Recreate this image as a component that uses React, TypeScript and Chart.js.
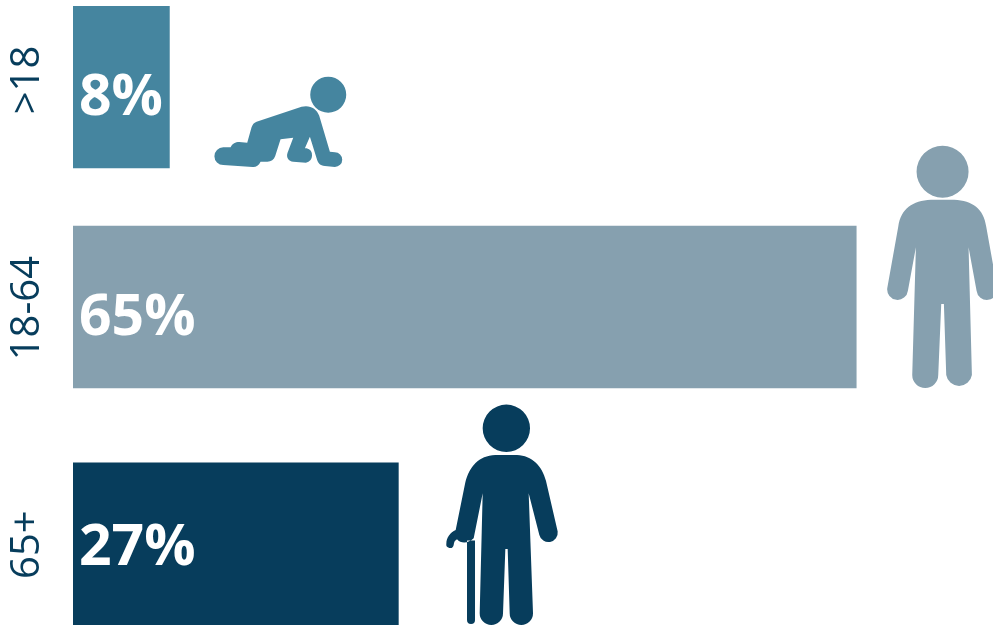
import React, { useEffect, useRef } from "react";
import { Chart, registerables } from "chart.js";

Chart.register(...registerables);

// Age groups and their share of the population, in percent.
const ageGroups = [">18", "18-64", "65+"];
const shares = [8, 65, 27];
// Rows are not evenly spaced, so they sit on a numeric axis.
const rowPositions = [1, 2, 3.077];
// Age labels are not quite centred on their rows.
const agePositions = [0.968, 2.005, 3.08];
const barColors = ["#45859F", "#86A0AF", "#073D5C"];

// Pictograms, in a local grid three times finer than the canvas.
const CRAWLER = [
  "M770 365 L905 320 C930 314 950 325 958 347 L990 455 L1005 457 A22 22 0 0 1 1005 501 L975 498 C960 497 955 490 951 478 L930 410",
  "L915 445 L920 445 A22 22 0 0 1 918 488 L880 485 C866 484 858 472 863 458 L880 413 L842 418 L826 468 C822 480 812 486 800 485 L782 485",
  "C776 497 768 502 758 501 L670 495 A25 25 0 0 1 670 442 L692 442 C698 430 706 426 718 426 L742 428 L755 382 C758 373 762 368 770 365 Z",
  "M1039 284 A54 54 0 1 1 931 284 A54 54 0 1 1 1039 284 Z",
].join(" ");

const ADULT = [
  "M215 209 C160 212 125 235 117 290 L84 475 A31 31 0 0 0 146 482 L170 352 L159 735 A39 39 0 0 0 237 735",
  "L246 522 L254 522 L261 735 A39 39 0 0 0 338 735 L328 352 L352 482 A31 31 0 0 0 414 475 L381 290 C373 235 340 212 285 209 Z",
  "M328 125 A78 78 0 1 1 172 125 A78 78 0 1 1 328 125 Z",
].join(" ");

const ELDER = [
  "M225 180 C175 182 147 215 135 262 L106 405 C90 413 78 427 78 446 A11 11 0 0 0 100 450 C101 441 104 436 110 433 C122 447 145 445 160 430 L187 295",
  "L178 655 A35 35 0 0 0 248 655 L255 462 L262 462 L268 655 A35 35 0 0 0 338 655 L325 295 L357 420 A28 28 0 0 0 412 410 L377 258 C365 212 335 182 290 180 Z",
  "M140 437 L164 437 L164 675 A12 12 0 0 1 140 675 Z",
  "M329 100 A71 71 0 1 1 187 100 A71 71 0 1 1 329 100 Z",
].join(" ");

const rowDecor = [
  { path: CRAWLER, dx: -169.5, dy: -87, textDy: 12 },
  { path: ADULT, dx: 3, dy: -177, textDy: 12 },
  { path: ELDER, dx: 22, dy: -149, textDy: 5 },
];

// Writes each share inside its bar and places a pictogram past the bar's end.
const barDecorations = {
  id: "barDecorations",
  afterDatasetsDraw(chart: Chart) {
    const { ctx, scales } = chart;
    shares.forEach((share, i) => {
      const end = scales.x.getPixelForValue(share);
      const mid = scales.y.getPixelForValue(rowPositions[i]);
      const decor = rowDecor[i];
      ctx.save();
      ctx.fillStyle = "#FFFFFF";
      ctx.font = 'bold 57px "Open Sans"';
      ctx.textAlign = "left";
      ctx.textBaseline = "middle";
      ctx.fillText(`${share}%`, scales.x.left + 6, mid + decor.textDy);
      ctx.restore();

      ctx.save();
      ctx.translate(end + decor.dx, mid + decor.dy);
      ctx.scale(1 / 3, 1 / 3);
      ctx.fillStyle = barColors[i];
      ctx.fill(new Path2D(decor.path));
      ctx.restore();
    });
  },
};

export default function App() {
  const canvasRef = useRef<HTMLCanvasElement>(null);

  useEffect(() => {
    const chart = new Chart(canvasRef.current!, {
      type: "bar",
      data: {
        labels: ageGroups,
        datasets: [
          {
            data: shares.map((share, i) => ({ x: share, y: rowPositions[i] })),
            backgroundColor: barColors,
            barThickness: 162,
            borderWidth: 0,
          },
        ],
      },
      options: {
        indexAxis: "y",
        responsive: false,
        animation: false,
        layout: { padding: { top: 6, bottom: 2, left: 0, right: 0 } },
        plugins: { legend: { display: false }, tooltip: { enabled: false } },
        scales: {
          x: { type: "linear", display: false, min: 0, max: 76.35 },
          y: {
            type: "linear",
            reverse: true,
            offset: false,
            min: 0.6318,
            max: 3.4455,
            grid: { display: false },
            border: { display: false },
            afterBuildTicks(axis) {
              axis.ticks = agePositions.map((value) => ({ value }));
            },
            afterFit(axis) {
              // Long rotated labels must not shrink the plot area.
              axis.width = 73;
              axis.paddingTop = 0;
              axis.paddingBottom = 0;
            },
            ticks: {
              autoSkip: false,
              minRotation: 90,
              maxRotation: 90,
              crossAlign: "center",
              color: "#073D5C",
              font: { family: '"Open Sans"', size: 40 },
              padding: -15,
              callback: (_value, index) => ageGroups[index],
            },
          },
        },
      },
      plugins: [barDecorations],
    });
    return () => chart.destroy();
  }, []);

  return (
    <div style={{ position: "fixed", inset: 0, background: "#FFFFFF" }}>
      <canvas ref={canvasRef} width={993} height={627} style={{ display: "block" }} />
    </div>
  );
}
